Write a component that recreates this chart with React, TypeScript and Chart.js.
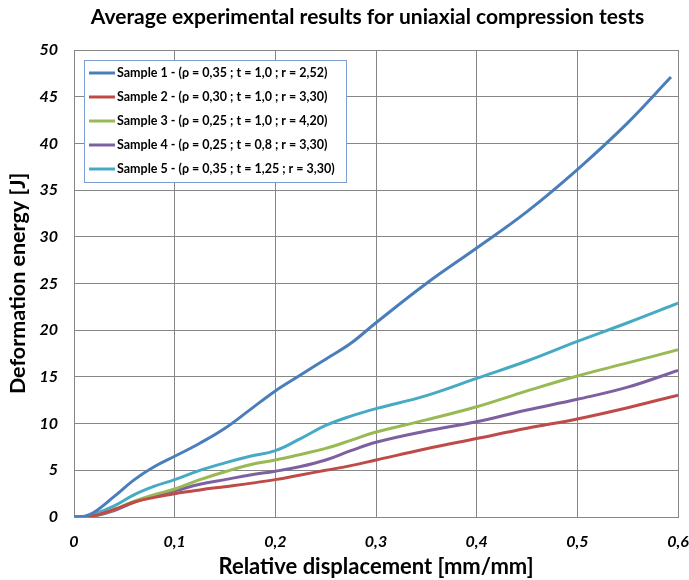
import React, { useEffect, useRef } from "react";
import { Chart, registerables } from "chart.js";

Chart.register(...registerables);

const TITLE = "Average experimental results for uniaxial compression tests";
const X_TITLE = "Relative displacement [mm/mm]";
const Y_TITLE = "Deformation energy [J]";

const SERIES_NAMES = [
  "Sample 1 - (ρ = 0,35 ; t = 1,0 ; r = 2,52)",
  "Sample 2 - (ρ = 0,30 ; t = 1,0 ; r = 3,30)",
  "Sample 3 - (ρ = 0,25 ; t = 1,0 ; r = 4,20)",
  "Sample 4 - (ρ = 0,25 ; t = 0,8 ; r = 3,30)",
  "Sample 5 - (ρ = 0,35 ; t = 1,25 ; r = 3,30)",
];
const COLORS = ["#4A7EBB", "#BE4B48", "#98B954", "#7D60A0", "#46AAC5"];

const X_COMMON = [0, 0.01, 0.02, 0.04, 0.06, 0.08, 0.1, 0.125, 0.15, 0.175, 0.2, 0.225, 0.25, 0.275, 0.3, 0.35, 0.4, 0.45, 0.5, 0.55, 0.6];
const X_SAMPLE1 = [0, 0.01, 0.02, 0.04, 0.06, 0.08, 0.1, 0.125, 0.15, 0.175, 0.2, 0.225, 0.25, 0.275, 0.3, 0.35, 0.4, 0.45, 0.5, 0.55, 0.593];

const SAMPLE1 = [0, 0.05, 0.5, 2.2, 4.0, 5.4, 6.5, 7.9, 9.5, 11.5, 13.5, 15.2, 16.9, 18.6, 20.8, 25.0, 28.8, 32.7, 37.2, 42.2, 47.1];
const SAMPLE2 = [0, 0.02, 0.15, 0.8, 1.6, 2.1, 2.5, 2.9, 3.25, 3.6, 4.0, 4.5, 5.0, 5.5, 6.1, 7.3, 8.4, 9.5, 10.5, 11.7, 13.05];
const SAMPLE3 = [0, 0.02, 0.15, 0.8, 1.7, 2.4, 3.0, 4.0, 4.85, 5.6, 6.1, 6.7, 7.35, 8.2, 9.1, 10.4, 11.8, 13.5, 15.1, 16.5, 17.9];
const SAMPLE4 = [0, 0.02, 0.1, 0.7, 1.6, 2.3, 2.8, 3.5, 4.0, 4.5, 4.9, 5.4, 6.1, 7.1, 8.0, 9.2, 10.2, 11.45, 12.6, 13.9, 15.7];
const SAMPLE5 = [0, 0.03, 0.3, 1.2, 2.4, 3.3, 4.0, 5.0, 5.8, 6.5, 7.1, 8.4, 9.8, 10.8, 11.6, 13.0, 14.85, 16.7, 18.8, 20.8, 22.9];

const FONT = "Lato";

const legendPlugin = {
  id: "insideLegend",
  afterLayout(chart: any) {
    const tb = chart.titleBlock;
    if (tb) {
      tb.left += 23;
      tb.right += 23;
    }
  },
  afterDraw(chart: any) {
    const ctx = chart.ctx;
    const area = chart.chartArea;
    const x0 = area.left + 10;
    const y0 = area.top + 10;
    const w = 262;
    const h = 122;
    ctx.save();
    ctx.fillStyle = "#ffffff";
    ctx.fillRect(x0, y0, w, h);
    ctx.strokeStyle = "#7C9FD0";
    ctx.lineWidth = 1;
    ctx.strokeRect(x0 + 0.5, y0 + 0.5, w, h);
    ctx.font = `bold 12.5px ${FONT}`;
    ctx.textBaseline = "middle";
    chart.data.datasets.forEach((ds: any, i: number) => {
      const cy = y0 + 13 + i * 24;
      ctx.strokeStyle = ds.borderColor;
      ctx.lineWidth = 3;
      ctx.beginPath();
      ctx.moveTo(x0 + 5, cy);
      ctx.lineTo(x0 + 31, cy);
      ctx.stroke();
      ctx.fillStyle = "#000000";
      ctx.fillText(ds.label, x0 + 33, cy);
    });
    ctx.restore();
  },
};

export default function App() {
  const ref = useRef<HTMLCanvasElement>(null);
  useEffect(() => {
    const seriesY = [SAMPLE1, SAMPLE2, SAMPLE3, SAMPLE4, SAMPLE5];
    const datasets = seriesY.map((ys, i) => {
      const xs = i === 0 ? X_SAMPLE1 : X_COMMON;
      return {
        label: SERIES_NAMES[i],
        data: ys.map((y, j) => ({ x: xs[j], y })),
        borderColor: COLORS[i],
        backgroundColor: COLORS[i],
        borderWidth: 3,
        pointRadius: 0,
        tension: 0.4,
        fill: false,
      };
    });
    const chart = new Chart(ref.current!, {
      type: "line",
      data: { datasets },
      plugins: [legendPlugin],
      options: {
        animation: false,
        responsive: false,
        layout: { padding: { left: 0, right: 0, top: 0, bottom: 0 } },
        plugins: {
          legend: { display: false },
          tooltip: { enabled: false },
          title: {
            display: true,
            text: TITLE,
            color: "#000",
            font: { family: FONT, size: 21, weight: "bold" },
            padding: { top: 4.4, bottom: 20.4 },
          },
        },
        scales: {
          x: {
            type: "linear",
            min: 0,
            max: 0.6,
            border: { color: "#868686", width: 1 },
            grid: { color: "#868686", lineWidth: 1, drawTicks: false },
            ticks: {
              stepSize: 0.1,
              padding: 15,
              color: "#000",
              font: { family: FONT, size: 16, weight: "bold", style: "italic" },
              callback: (v: any) => (v === 0 ? "0" : Number(v).toFixed(1).replace(".", ",")),
            },
            title: {
              display: true,
              text: X_TITLE,
              color: "#000",
              font: { family: FONT, size: 22, weight: "bold" },
              padding: { top: 0, bottom: 0 },
            },
            afterFit: (s: any) => {
              s.height = 63;
              s.paddingRight = 11;
              s.paddingLeft = 0;
            },
          },
          y: {
            type: "linear",
            min: 0,
            max: 50,
            border: { color: "#868686", width: 1 },
            grid: { color: "#868686", lineWidth: 1, drawTicks: false },
            ticks: {
              stepSize: 5,
              padding: 16,
              color: "#000",
              font: { family: FONT, size: 16, weight: "bold", style: "italic" },
            },
            title: {
              display: true,
              text: Y_TITLE,
              color: "#000",
              font: { family: FONT, size: 21.5, weight: "bold" },
              padding: { top: 5, bottom: 0 },
            },
            afterFit: (s: any) => {
              s.width = 74;
            },
          },
        },
      },
    });
    return () => chart.destroy();
  }, []);
  return (
    <div style={{ position: "absolute", left: 0, top: 0, width: 689, height: 580, background: "#fff" }}>
      <canvas ref={ref} width={689} height={580} />
    </div>
  );
}
